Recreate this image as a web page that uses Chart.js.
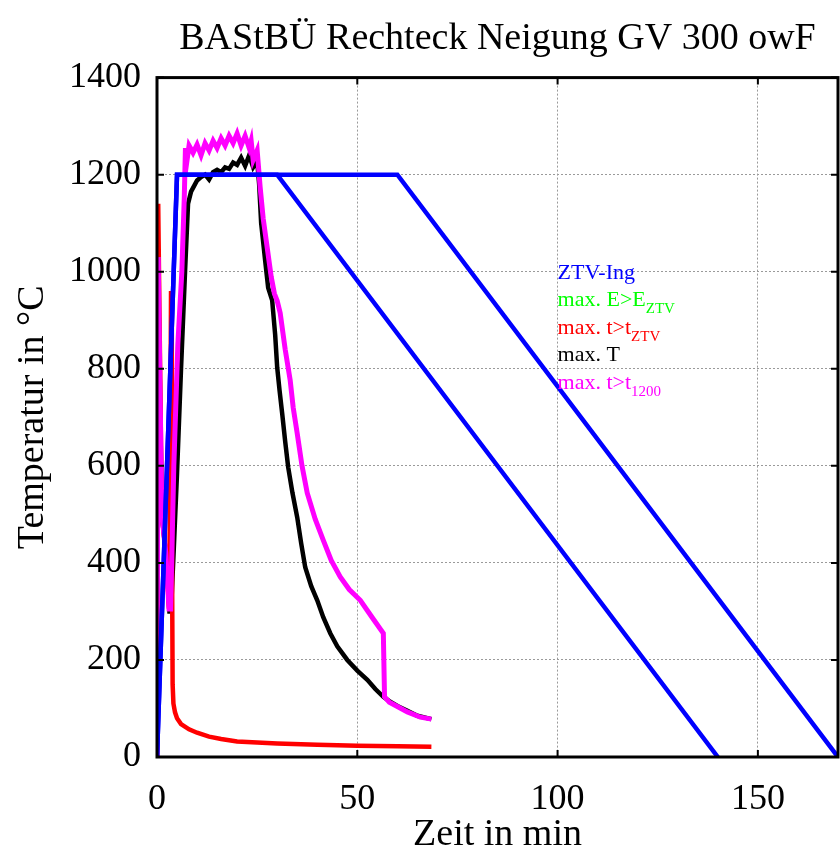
<!DOCTYPE html>
<html>
<head>
<meta charset="utf-8">
<script src="https://cdn.jsdelivr.net/npm/chart.js@4"></script>
<style>
  html, body { margin: 0; padding: 0; background: #fff; }
  #wrap { width: 840px; height: 860px; }
</style>
</head>
<body>
<div id="wrap"><canvas id="tempChart" width="840" height="860"></canvas></div>
<script>
// --- Data ---
const chartTitle = 'BAStBÜ Rechteck Neigung GV 300 owF';
const xTicks = [0, 50, 100, 150];
const yTicks = [0, 200, 400, 600, 800, 1000, 1200, 1400];

// ZTV-Ing reference curves
const ztvLongTime = [0, 5, 60, 170];
const ztvLongTemp = [0, 1200, 1200, 0];
const ztvShortTime = [0, 5, 30, 140];
const ztvShortTemp = [0, 1200, 1200, 0];

// max. t>t_ZTV (red)
const redTime = [0, 0.3, 1.2, 2.2, 3.0, 3.3, 3.5, 3.7, 3.9, 4.1, 4.5, 5, 6, 8, 10, 13, 16, 20, 25, 30, 40, 50, 60, 68.5];
const redTemp = [0, 1140, 500, 420, 305, 600, 960, 500, 150, 110, 92, 80, 68, 57, 50, 42, 37, 32, 30, 28, 25, 23, 22, 21];

// max. T (black)
const blackTime = [0, 0.3, 1.2, 2.2, 3.1, 3.5, 4.3, 5.0, 6.0, 7.0, 7.75, 8.5, 10, 11, 12, 13, 14, 15, 16, 17, 18, 19, 20, 21, 22, 23, 24, 25,
  25.5, 26, 27, 27.75, 28.75, 29.5, 30, 30.6, 31.25, 32, 32.75, 33.8, 35, 36, 37, 38.5, 40, 41.5, 43.25, 45, 47.5, 50, 52.5, 54.5, 56.5, 58, 60, 62.5, 65, 68.5];
const blackTemp = [0, 1000, 500, 420, 300, 300, 450, 585, 800, 1000, 1140, 1165, 1188, 1195, 1200, 1190, 1205, 1210, 1205, 1215, 1212, 1225, 1220, 1235, 1218, 1240, 1215, 1228,
  1180, 1100, 1023, 967, 941, 870, 803, 755, 708, 650, 597, 545, 494, 440, 391, 352, 323, 288, 255, 228, 200, 178, 159, 140, 124, 115, 105, 95, 85, 78];

// max. t>t_1200 (magenta)
const magTime = [0, 0.3, 1.2, 2.2, 3.0, 3.4, 4.2, 5.2, 6.2, 6.8, 7.1, 7.5, 8, 9, 10, 11, 12, 13, 14, 15, 16, 17, 18, 19, 20, 21, 22, 23, 23.5, 24, 25,
  25.75, 26.5, 27.5, 28.5, 29.3, 30, 30.75, 32, 33.25, 34, 35, 36.2, 37.5, 39.5, 41.5, 43.5, 45.75, 48, 50.75, 53.5, 56.5, 56.8, 58, 60, 62.5, 65.75, 68.5];
const magTemp = [0, 1030, 500, 420, 305, 305, 600, 850, 1000, 1150, 1255, 1230, 1260, 1245, 1262, 1240, 1265, 1250, 1270, 1255, 1275, 1260, 1280, 1265, 1285, 1260, 1280, 1255, 1270, 1230, 1250,
  1174, 1110, 1050, 990, 955, 940, 915, 840, 776, 720, 667, 600, 544, 490, 447, 405, 371, 345, 323, 290, 255, 124, 113, 104, 93, 82, 78];

// legend entries (text, subscript, colour)
const legendItems = [
  ['ZTV-Ing', '', '#0000ff'],
  ['max. E>E', 'ZTV', '#00ff00'],
  ['max. t>t', 'ZTV', '#ff0000'],
  ['max. T', '', '#000000'],
  ['max. t>t', '1200', '#ff00ff']
];

function pts(xs, ys) {
  return xs.map((x, i) => ({ x: x, y: ys[i] }));
}

const serif = '"Liberation Serif", "DejaVu Serif", serif';

// frame, inward ticks and legend text
const framePlugin = {
  id: 'frame',
  afterDraw(chart) {
    const ctx = chart.ctx;
    const a = chart.chartArea;
    const xs = chart.scales.x;
    const ys = chart.scales.y;
    ctx.save();
    ctx.strokeStyle = '#000';
    ctx.lineWidth = 2;
    xTicks.forEach(v => {
      const px = xs.getPixelForValue(v);
      ctx.beginPath();
      ctx.moveTo(px, a.bottom); ctx.lineTo(px, a.bottom - 7);
      ctx.moveTo(px, a.top); ctx.lineTo(px, a.top + 7);
      ctx.stroke();
    });
    yTicks.forEach(v => {
      const py = ys.getPixelForValue(v);
      ctx.beginPath();
      ctx.moveTo(a.left, py); ctx.lineTo(a.left + 7, py);
      ctx.moveTo(a.right, py); ctx.lineTo(a.right - 7, py);
      ctx.stroke();
    });
    ctx.lineWidth = 3;
    ctx.strokeRect(a.left, a.top, a.right - a.left, a.bottom - a.top);

    // legend
    let lx = xs.getPixelForValue(100);
    let ly = ys.getPixelForValue(1000) + 7;
    ctx.textAlign = 'left';
    ctx.textBaseline = 'alphabetic';
    legendItems.forEach(item => {
      ctx.fillStyle = item[2];
      ctx.font = '22px ' + serif;
      ctx.fillText(item[0], lx, ly);
      if (item[1]) {
        const w = ctx.measureText(item[0]).width;
        ctx.font = '15px ' + serif;
        ctx.fillText(item[1], lx + w, ly + 7);
      }
      ly += 27.5;
    });
    ctx.restore();
  }
};

document.addEventListener('DOMContentLoaded', function() {
  const ctx = document.getElementById('tempChart').getContext('2d');

  new Chart(ctx, {
    type: 'line',
    data: {
      datasets: [
        { label: 'ZTV-Ing', data: pts(ztvLongTime, ztvLongTemp), borderColor: '#0000ff', borderWidth: 4.5 },
        { label: 'ZTV-Ing 2', data: pts(ztvShortTime, ztvShortTemp), borderColor: '#0000ff', borderWidth: 4.5 },
        { label: 'max. t>t1200', data: pts(magTime, magTemp), borderColor: '#ff00ff', borderWidth: 5 },
        { label: 'max. t>tZTV', data: pts(redTime, redTemp), borderColor: '#ff0000', borderWidth: 4.5 },
        { label: 'max. T', data: pts(blackTime, blackTemp), borderColor: '#000000', borderWidth: 4.5 }
      ]
    },
    options: {
      responsive: false,
      animation: false,
      elements: {
        point: { radius: 0 },
        line: { tension: 0, fill: false, borderJoinStyle: 'miter', borderCapStyle: 'butt' }
      },
      layout: { padding: { left: 0, right: 2, top: 0, bottom: 0 } },
      scales: {
        x: {
          type: 'linear',
          min: 0,
          max: 170,
          afterFit: s => { s.height = 103; },
          ticks: {
            stepSize: 50,
            includeBounds: false,
            padding: 21,
            color: '#000',
            font: { family: serif, size: 36 },
            maxRotation: 0,
            callback: v => String(v)
          },
          grid: { color: '#9a9a9a', lineWidth: 1, drawTicks: false },
          border: { display: false, dash: [2, 2] },
          title: {
            display: true,
            text: 'Zeit in min',
            color: '#000',
            font: { family: serif, size: 38 },
            padding: { top: 0, bottom: 2 }
          }
        },
        y: {
          type: 'linear',
          min: 0,
          max: 1400,
          afterFit: s => { s.width = 157; },
          ticks: {
            stepSize: 200,
            padding: 16,
            color: '#000',
            font: { family: serif, size: 36 },
            callback: v => String(v)
          },
          grid: { color: '#9a9a9a', lineWidth: 1, drawTicks: false },
          border: { display: false, dash: [2, 2] },
          title: {
            display: true,
            text: 'Temperatur in °C',
            color: '#000',
            font: { family: serif, size: 38 },
            padding: { top: 10, bottom: 0 }
          }
        }
      },
      plugins: {
        legend: { display: false },
        tooltip: { enabled: false },
        title: {
          display: true,
          text: chartTitle,
          fullSize: false,
          color: '#000',
          font: { family: serif, size: 38, weight: 'normal' },
          padding: { top: 16, bottom: 16 }
        }
      }
    },
    plugins: [framePlugin]
  });
});
</script>
</body>
</html>
